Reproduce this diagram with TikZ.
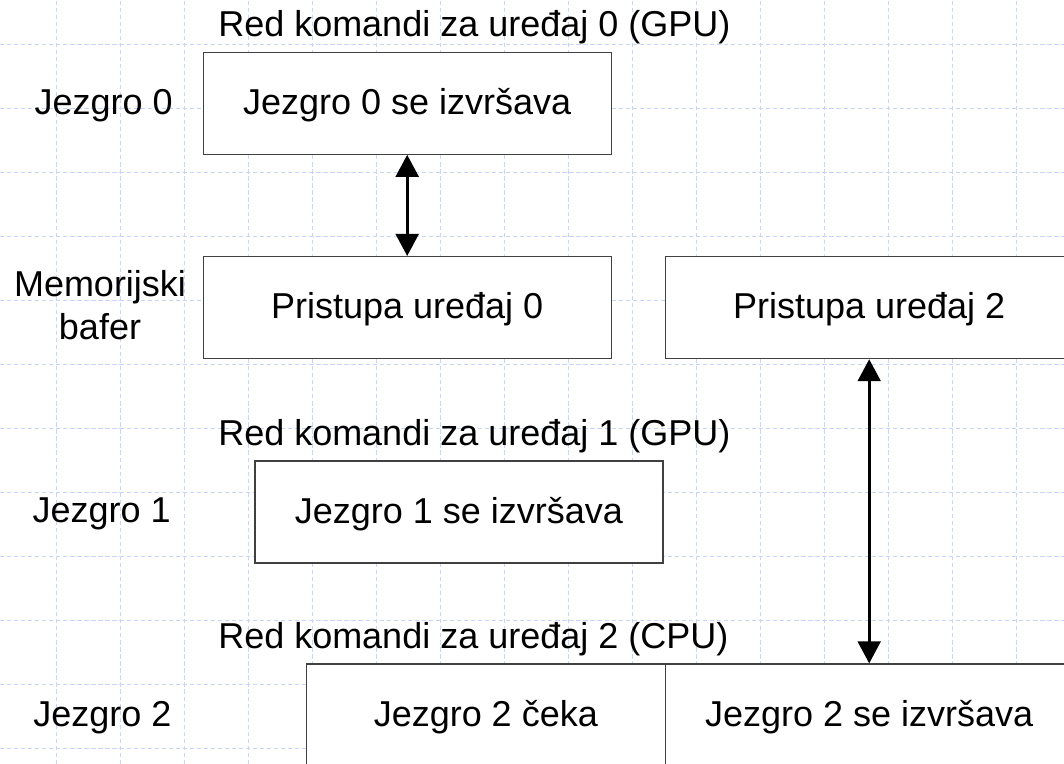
\documentclass[tikz,border=0pt]{standalone}
\usepackage{fontspec}
\setmainfont{Liberation Sans}
\usetikzlibrary{arrows.meta}
\definecolor{gridblue}{RGB}{200,212,248}
\tikzstyle{line1} = [inner sep=0pt, text height=18.4pt, text depth=2.6pt]
\tikzstyle{block} = [line1, rectangle, draw=black!75, line width=0.9pt, fill=white, minimum width=10.2cm, minimum height=2.55cm, text centered]
\tikzstyle{lane} = [line1]
\tikzstyle{lane2} = [align=center, inner sep=0pt]
\tikzstyle{queue} = [line1, anchor=west]
\tikzstyle{gridline} = [gridblue, line width=0.5pt, dash pattern=on 3pt off 2pt]
\tikzstyle{arrow} = [line width=2pt, {Triangle[length=0.55cm,width=0.57cm]}-{Triangle[length=0.55cm,width=0.57cm]}]

\begin{document}
\begin{tikzpicture}[every node/.style={font=\fontsize{25.6}{30.7}\selectfont}]
  \useasboundingbox (0,0) rectangle (26.6,19.1);
  % background grid
  \foreach \gx in {1.4,3.0,...,25.5}
    \draw [gridline] (\gx,0) -- (\gx,19.1);
  \foreach \gy in {0.39,1.99,...,18.1}
    \draw [gridline] (0,\gy) -- (26.6,\gy);

  \node (k0) [block] at (10.18,16.52) {Jezgro 0 se izvršava};
  \node (m0) [block] at (10.18,11.41) {Pristupa uređaj 0};
  \node (m2) [block] at (21.73,11.41) {Pristupa uređaj 2};
  \node (k1) [block] at (11.475,6.3) {Jezgro 1 se izvršava};
  \node (w2) [block, minimum width=8.97cm] at (12.145,1.225) {Jezgro 2 čeka};
  \node (e2) [block] at (21.73,1.225) {Jezgro 2 se izvršava};

  \node (q0) [queue] at (5.45,18.46) {Red komandi za uređaj 0 (GPU)};
  \node (q1) [queue] at (5.45,8.24) {Red komandi za uređaj 1 (GPU)};
  \node (q2) [queue] at (5.45,3.155) {Red komandi za uređaj 2 (CPU)};

  \node (l0) [lane] at (2.59,16.52) {Jezgro 0};
  \node (lm) [lane2] at (2.5,11.48) {Memorijski\\bafer};
  \node (l1) [lane] at (2.54,6.32) {Jezgro 1};
  \node (l2) [lane] at (2.56,1.225) {Jezgro 2};

  \draw [arrow] (k0) -- (m0);
  \draw [arrow] (m2) -- (e2);
\end{tikzpicture}
\end{document}
